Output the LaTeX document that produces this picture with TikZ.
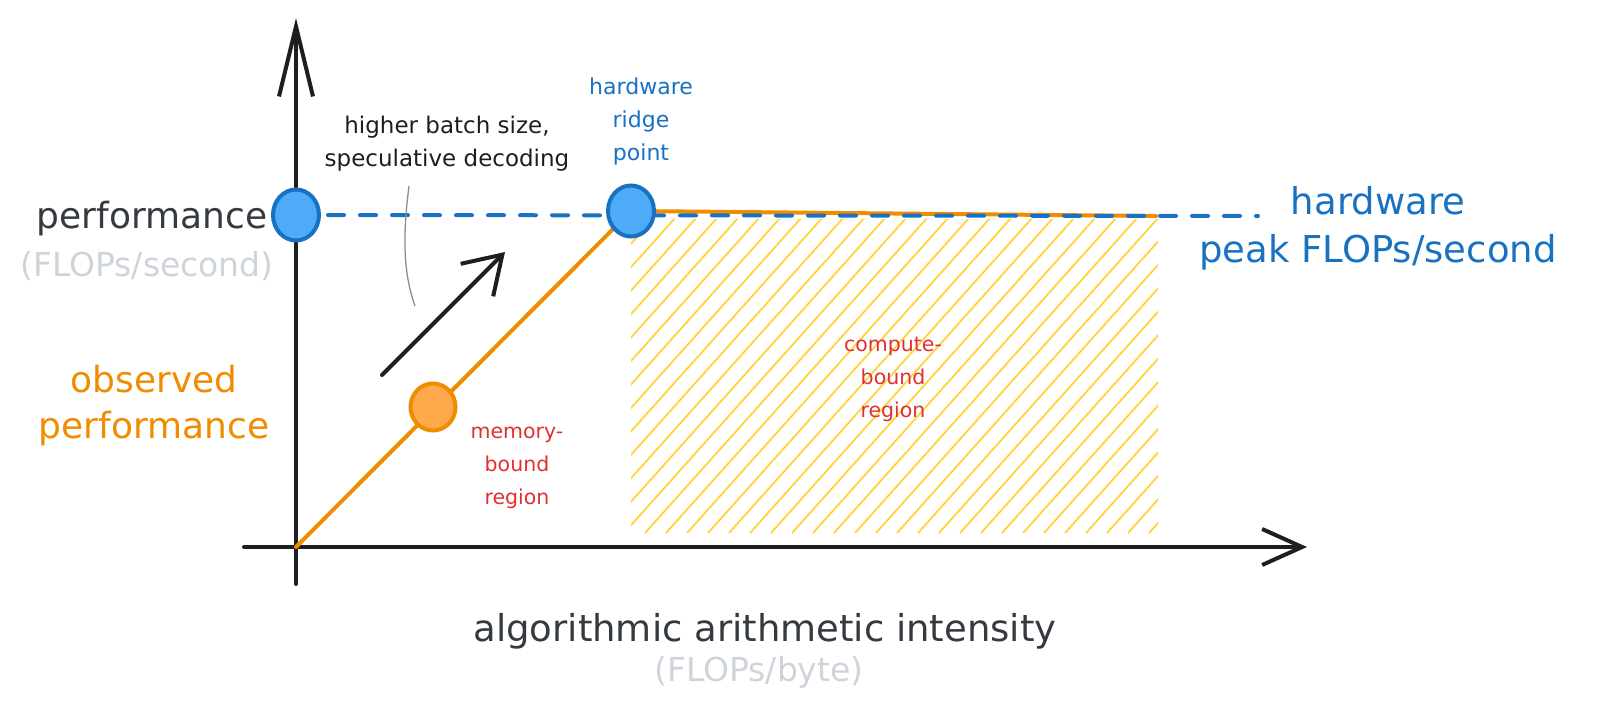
\documentclass[tikz,border=0pt]{standalone}
\usepackage{fontspec}
\setmainfont{DejaVu Sans}
\usetikzlibrary{shapes.geometric,arrows.meta}
\definecolor{ink}{HTML}{1E1E1E}
\definecolor{dark}{HTML}{343A40}
\definecolor{lgray}{HTML}{CED4DA}
\definecolor{xblue}{HTML}{1971C2}
\definecolor{xbluefill}{HTML}{4DABF7}
\definecolor{xorange}{HTML}{F08C00}
\definecolor{xorangefill}{HTML}{FFA94D}
\definecolor{xred}{HTML}{E03131}
\definecolor{xyellow}{HTML}{FFD43B}
\definecolor{xgray}{HTML}{868E96}
\begin{document}
\begin{tikzpicture}[x=1pt,y=-1pt,
  axisline/.style={ink,line width=4pt,line cap=round,line join=round},
  bluedot/.style={ellipse,draw=xblue,fill=xbluefill,line width=4pt,minimum width=46pt,minimum height=51pt,inner sep=0pt},
  orangedot/.style={ellipse,draw=xorange,fill=xorangefill,line width=4pt,minimum width=45pt,minimum height=47pt,inner sep=0pt},
  roofline/.style={xorange,line width=4pt,line cap=round,line join=round},
  peakline/.style={xblue,line width=4pt,line cap=round,dash pattern=on 16pt off 16pt},
  hatchline/.style={xyellow,line width=1.8pt},
  bigtxt/.style={font=\fontsize{36}{46}\selectfont,align=center,inner sep=0pt},
  subtxt/.style={font=\fontsize{33}{40}\selectfont,align=center,inner sep=0pt,text=lgray},
  smalltxt/.style={font=\fontsize{23}{33}\selectfont,align=center,inner sep=0pt},
  tinytxt/.style={font=\fontsize{20.5}{33}\selectfont,align=center,inner sep=0pt,text=xred}
]
\useasboundingbox (0,0) rectangle (1597,717);
% key coordinates
\coordinate (O) at (296,547);
\coordinate (Ytop) at (296,18);
\coordinate (Ybot) at (296,584);
\coordinate (Xleft) at (244,547);
\coordinate (Xtip) at (1307,547);
\coordinate (Lc) at (296,215);
\coordinate (Rc) at (631,211);
\coordinate (Mc) at (433,407);
\coordinate (plateau) at (1156,216);
\coordinate (dashend) at (1258,216);
\coordinate (arrA) at (382,375);
\coordinate (arrB) at (505,252);
% hatched compute-bound region
\begin{scope}
  \clip (631,219) rectangle (1158,533);
  \foreach \x in {330,351,...,1160} {
    \draw[hatchline] (\x,533) -- ++(283,-316);
  }
\end{scope}
% axes
\draw[axisline,-{Straight Barb[length=70pt,width=34pt,line width=4pt]}] (Ybot) -- (Ytop);
\draw[axisline,-{Straight Barb[length=40pt,width=36pt,line width=4pt]}] (Xleft) -- (Xtip);
% roofline
\draw[roofline] (O) -- (Rc) -- (plateau);
% peak dashed
\draw[peakline] (Lc) -- (dashend);
% batch arrow
\draw[ink,line width=4pt,line cap=round,-{Straight Barb[length=36pt,width=46pt,line width=4pt]}] (arrA) -- (arrB);
% gray leader
\draw[xgray,line width=1.3pt] (409,186) .. controls (402,240) and (404,275) .. (415,306);
% dots
\node[bluedot] (L) at (Lc) {};
\node[bluedot] (R) at (Rc) {};
\node[orangedot] (M) at (Mc) {};
% texts
\node[bigtxt,text=dark] (perf) at (152,219) {performance};
\node[subtxt] (perfu) at (147,266) {(FLOPs/second)};
\node[bigtxt,text=xorange] (obs) at (154,406) {observed\\performance};
\node[smalltxt,text=ink] (batch) at (447,144) {higher batch size,\\speculative decoding};
\node[font=\fontsize{22}{33}\selectfont,align=center,inner sep=0pt,text=xblue] (ridge) at (641,121) {hardware\\ridge\\point};
\node[tinytxt] (mem) at (517,468) {memory-\\bound\\region};
\node[tinytxt] (comp) at (893,379) {compute-\\bound\\region};
\node[font=\fontsize{37}{48}\selectfont,align=center,inner sep=0pt,text=xblue] (peak) at (1378,228) {hardware\\peak FLOPs/second};
\node[font=\fontsize{37}{46}\selectfont,inner sep=0pt,text=dark] (xlab) at (765,631) {algorithmic arithmetic intensity};
\node[subtxt] (xunit) at (759,672) {(FLOPs/byte)};
\end{tikzpicture}
\end{document}
